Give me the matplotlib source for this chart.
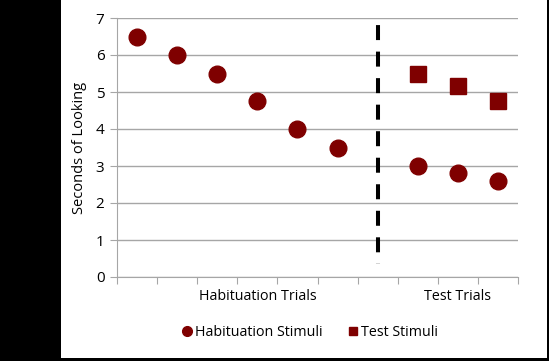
import matplotlib.pyplot as plt
from matplotlib.lines import Line2D
from matplotlib.patches import Rectangle

plt.rcParams["font.family"] = ["Open Sans", "DejaVu Sans"]
plt.rcParams["lines.scale_dashes"] = False

hab_x = [1, 2, 3, 4, 5, 6, 8, 9, 10]
hab_y = [6.5, 6.0, 5.5, 4.75, 4.0, 3.5, 3.0, 2.8, 2.6]
test_x = [8, 9, 10]
test_y = [5.5, 5.15, 4.75]
divider_x = [7, 7]
divider_y = [7, 0.35]
group_pos = [4, 9]
group_labels = ["Habituation Trials", "Test Trials"]
y_ticks = [0, 1, 2, 3, 4, 5, 6, 7]

RED = "#7f0000"
GRID = "#a6a6a6"

fig = plt.figure(figsize=(5.49, 3.61), dpi=100)
fig.patch.set_facecolor("black")
fig.add_artist(Rectangle((61 / 549, 3 / 361), 486 / 549, 358 / 361,
                         transform=fig.transFigure, facecolor="white",
                         edgecolor="none", zorder=0))

ax = fig.add_axes([117 / 549, 1 - 277 / 361, 401 / 549, 259 / 361])
ax.set_facecolor("none")

ax.plot(hab_x, hab_y, "o", color=RED, markersize=12, zorder=3)
ax.plot(test_x, test_y, "s", color=RED, markersize=11.5, zorder=3)
ax.plot(divider_x, divider_y, color="black", linewidth=2.9,
        linestyle=(14.0, (10.8, 8.3)), zorder=2)

ax.set_xlim(0.5, 10.5)
ax.set_ylim(0, 7)
ax.set_yticks(y_ticks)
ax.set_xticks([i + 0.5 for i in range(11)])
ax.set_xticklabels([])
ax.set_xticks(group_pos, minor=True)
ax.set_xticklabels(group_labels, minor=True)
ax.tick_params(axis="x", which="minor", length=0, pad=9, labelsize=10.3)
ax.tick_params(axis="x", which="major", length=5, color=GRID, direction="out")
ax.tick_params(axis="y", length=5, color=GRID, labelsize=11, pad=4)

ax.grid(axis="y", color=GRID, linewidth=1)
ax.set_axisbelow(True)
for s in ["top", "right"]:
    ax.spines[s].set_visible(False)
ax.spines["left"].set_color(GRID)
ax.spines["bottom"].set_color(GRID)

ax.set_ylabel("Seconds of Looking", fontsize=10.5, labelpad=6)

handles = [
    Line2D([], [], marker="o", linestyle="none", color=RED, markersize=7),
    Line2D([], [], marker="s", linestyle="none", color=RED, markersize=6.2),
]
fig.legend(handles, ["Habituation Stimuli", "Test Stimuli"], loc="center",
           bbox_to_anchor=(309 / 549, 1 - 333 / 361), ncol=2, frameon=False,
           fontsize=10.3, handletextpad=0.05, columnspacing=1.6, handlelength=1.0)

fig.savefig("out.png", dpi=100, facecolor=fig.get_facecolor())
